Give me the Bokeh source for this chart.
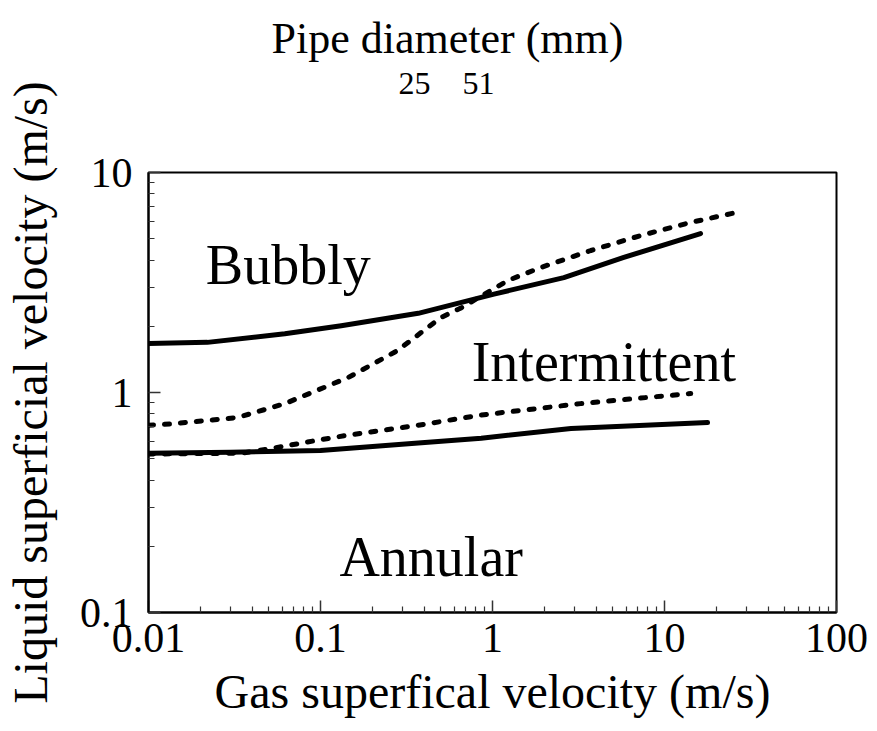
from bokeh.plotting import figure
from bokeh.models import (Range1d, FixedTicker, CustomJSTickFormatter, Title)
from bokeh.core.properties import value
from bokeh.embed import file_html
from bokeh.resources import INLINE

# ---- data ----
# 25 mm pipe: bubbly / intermittent boundary (solid)
b25_x = [0.01, 0.022, 0.062, 0.132, 0.37, 1.02, 2.6, 5.8, 16.2]
b25_y = [1.67, 1.69, 1.85, 2.01, 2.29, 2.80, 3.33, 4.11, 5.28]
# 51 mm pipe: bubbly / intermittent boundary (dotted)
b51_x = [0.01, 0.0136, 0.033, 0.062, 0.145, 0.28, 0.5, 0.66, 1.23, 1.91, 3.73, 7.28, 14.2, 25.9]
b51_y = [0.71, 0.72, 0.77, 0.89, 1.17, 1.55, 2.19, 2.43, 3.23, 3.70, 4.42, 5.17, 5.93, 6.57]
# 25 mm pipe: intermittent / annular boundary (solid)
a25_x = [0.01, 0.03, 0.1, 0.37, 0.86, 2.86, 17.8]
a25_y = [0.53, 0.535, 0.545, 0.59, 0.62, 0.686, 0.73]
# 51 mm pipe: intermittent / annular boundary (dotted)
a51_x = [0.01, 0.035, 0.054, 0.1, 0.145, 0.37, 0.86, 3.25, 14.2]
a51_y = [0.525, 0.53, 0.56, 0.61, 0.64, 0.71, 0.79, 0.89, 0.99]

region_names = ["Bubbly", "Intermittent", "Annular"]
region_x = [0.065, 4.44, 0.44]
region_y = [3.78, 1.37, 0.178]

x_ticks = [0.01, 0.1, 1, 10, 100]
x_tick_labels = ["0.01", "0.1", "1", "10", "100"]
y_ticks = [0.1, 1, 10]
y_tick_labels = ["0.1", "1", "10"]

legend_title = "Pipe diameter (mm)"
legend_labels = ["25", "51"]

FONT = "Liberation Serif"
W, H = 877, 731
FL, FR, FT, FB = 147, 836, 172, 612   # frame edges in pixels

p = figure(width=W, height=H, x_axis_type="log", y_axis_type="log",
           x_range=Range1d(0.01, 100), y_range=Range1d(0.1, 10),
           output_backend="svg", toolbar_location=None,
           min_border_left=FL, min_border_right=W - FR,
           min_border_top=FT, min_border_bottom=H - FB)
p.background_fill_color = "white"
p.border_fill_color = "white"
p.outline_line_color = "black"
p.outline_line_width = 2
p.grid.visible = False

def minors(ticks):
    out = []
    for t in ticks[:-1]:
        out += [t * k for k in range(2, 10)]
    return out

p.xaxis.ticker = FixedTicker(ticks=x_ticks, minor_ticks=minors(x_ticks))
p.yaxis.ticker = FixedTicker(ticks=y_ticks, minor_ticks=minors(y_ticks))

fmt_code = """
for (let i = 0; i < vals.length; i++) {
  if (Math.abs(Math.log10(vals[i]) - Math.log10(tick)) < 1e-6) return labels[i];
}
return "";
"""
p.xaxis.formatter = CustomJSTickFormatter(args=dict(vals=x_ticks, labels=x_tick_labels), code=fmt_code)
p.yaxis.formatter = CustomJSTickFormatter(args=dict(vals=y_ticks, labels=y_tick_labels), code=fmt_code)

for ax in (p.xaxis[0], p.yaxis[0]):
    ax.axis_line_color = "black"
    ax.axis_line_width = 2
    ax.major_tick_in = 12
    ax.major_tick_out = 0
    ax.minor_tick_in = 6
    ax.minor_tick_out = 0
    ax.major_tick_line_color = "#333333"
    ax.minor_tick_line_color = "#333333"
    ax.major_tick_line_width = 1.5
    ax.minor_tick_line_width = 1.2
    ax.major_label_text_font = FONT
    ax.major_label_text_font_size = "42px"
    ax.major_label_text_color = "black"
    ax.axis_label_text_font = FONT
    ax.axis_label_text_font_size = "48px"
    ax.axis_label_text_font_style = "normal"
    ax.axis_label_text_color = "black"

p.xaxis.axis_label = "Gas superfical velocity (m/s)"
p.yaxis.axis_label = "Liquid superficial velocity (m/s)"
p.xaxis.major_label_standoff = 11
p.xaxis.axis_label_standoff = 10
p.yaxis.major_label_standoff = 16
p.yaxis.axis_label_standoff = 20

solid = dict(line_color="black", line_width=5, line_cap="round", line_join="round")
dotted = dict(line_color="black", line_width=5, line_dash="5 11", line_cap="round")

p.line(b25_x, b25_y, **solid)
p.line(a25_x, a25_y, **solid)
p.line(b51_x, b51_y, **dotted)
p.line(a51_x, a51_y, **dotted)

p.text(x=region_x, y=region_y, text=region_names, text_font=value(FONT),
       text_font_size="56px", text_align="center", text_baseline="alphabetic",
       text_color="black")

# ---- legend texts stacked in the panel above the frame ----
# spacer closest to the frame (where the line samples sit in the original)
p.add_layout(Title(text="\u00a0", text_font_size="50px", standoff=14), "above")
p.add_layout(Title(text=legend_labels[0] + "\u00a0\u00a0\u00a0\u00a0" + legend_labels[1],
                   align="left", offset=250, standoff=0,
                   text_font=FONT, text_font_size="32px", text_font_style="normal",
                   text_color="black"), "above")
p.add_layout(Title(text=legend_title, align="left", offset=123, standoff=0,
                   text_font=FONT, text_font_size="44px", text_font_style="normal",
                   text_color="black"), "above")

open("out.html", "w").write(file_html(p, INLINE))
